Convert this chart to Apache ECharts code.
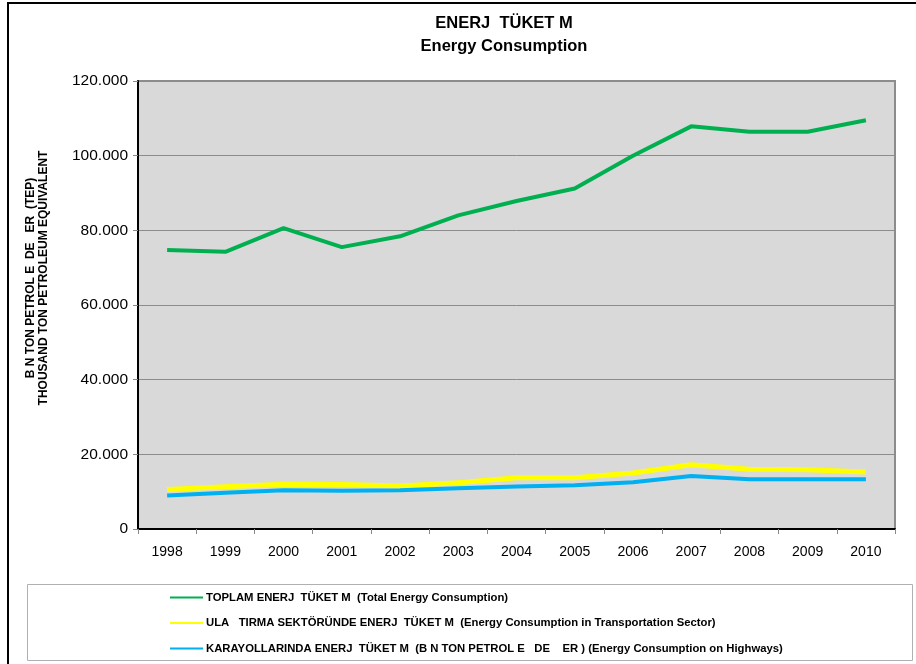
<!DOCTYPE html>
<html>
<head>
<meta charset="utf-8">
<script src="https://cdn.jsdelivr.net/npm/echarts@6/dist/echarts.min.js"></script>
<style>
  html, body { margin: 0; padding: 0; background: #fff; }
  #chart { width: 916px; height: 664px; }
</style>
</head>
<body>
<div id="chart"></div>
<script>
// data
var years = ['1998', '1999', '2000', '2001', '2002', '2003', '2004', '2005', '2006', '2007', '2008', '2009', '2010'];
var toplam = [74700, 74250, 80600, 75500, 78400, 84000, 87850, 91200, 100000, 107850, 106400, 106400, 109500];
var ulastirma = [10600, 11300, 12000, 11900, 11500, 12400, 13700, 13700, 15000, 17200, 16000, 15900, 15300];
var karayollari = [9000, 9700, 10400, 10250, 10350, 10900, 11400, 11700, 12500, 14200, 13300, 13300, 13300];
var yTicks = [0, 20000, 40000, 60000, 80000, 100000, 120000];

var seriesNames = [
  'TOPLAM ENERJ  TÜKET M  (Total Energy Consumption)',
  'ULA   TIRMA SEKTÖRÜNDE ENERJ  TÜKET M  (Energy Consumption in Transportation Sector)',
  'KARAYOLLARINDA ENERJ  TÜKET M  (B N TON PETROL E   DE    ER ) (Energy Consumption on Highways)'
];
var colors = ['#00b050', '#ffff00', '#00b0f0'];
var yTitle = 'B N TON PETROL E  DE   ER  (TEP)\nTHOUSAND TON PETROLEUM EQUIVALENT';

var font = 'Arial, "Liberation Sans", sans-serif';

function fmt(v) {
  if (v === 0) return '0';
  return (v / 1000).toFixed(3);
}

var myChart = echarts.init(document.getElementById('chart'));

var option = {
  animation: false,
  textStyle: { fontFamily: font },
  title: {
    text: 'ENERJ  TÜKET M\nEnergy Consumption',
    left: 499,
    textAlign: 'center',
    top: 7,
    textStyle: { fontSize: 16.5, fontWeight: 'bold', color: '#000', lineHeight: 23, fontFamily: font }
  },
  grid: {
    left: 138,
    right: 21,
    top: 81,
    bottom: 135,
    show: true,
    backgroundColor: '#d9d9d9',
    borderColor: '#8c8c8c',
    borderWidth: 2
  },
  legend: {
    orient: 'vertical',
    left: 165,
    top: 587,
    itemGap: 14.5,
    itemWidth: 33,
    itemHeight: 2,
    icon: 'rect',
    data: seriesNames,
    textStyle: { fontSize: 11.3, fontWeight: 'bold', color: '#000', fontFamily: font, padding: [0, 0, 0, -2] }
  },
  xAxis: {
    type: 'category',
    data: years,
    boundaryGap: true,
    axisLine: { lineStyle: { color: '#000', width: 2 } },
    axisTick: { show: true, length: 5, lineStyle: { color: '#888' } },
    axisLabel: { fontSize: 14, color: '#000', margin: 16, fontFamily: font }
  },
  yAxis: {
    type: 'value',
    min: yTicks[0],
    max: yTicks[yTicks.length - 1],
    interval: 20000,
    axisLine: { show: true, lineStyle: { color: '#000', width: 2 } },
    axisTick: { show: true, length: 5, lineStyle: { color: '#888' } },
    axisLabel: { fontSize: 15.5, color: '#000', margin: 10, formatter: fmt, fontFamily: font },
    splitLine: { show: true, lineStyle: { color: '#8c8c8c', width: 1 } }
  },
  graphic: [
    {
      type: 'rect',
      shape: { x: 8, y: 3, width: 1000, height: 1000 },
      style: { fill: 'none', stroke: '#000', lineWidth: 2 },
      silent: true,
      z: 0
    },
    {
      type: 'rect',
      shape: { x: 27.5, y: 584.5, width: 885, height: 76 },
      style: { fill: '#fff', stroke: '#b0b0b0', lineWidth: 1 },
      silent: true,
      z: 0
    },
    {
      type: 'text',
      x: 37,
      y: 278,
      rotation: Math.PI / 2,
      style: {
        text: yTitle,
        align: 'center',
        verticalAlign: 'middle',
        fontSize: 12,
        fontWeight: 'bold',
        lineHeight: 13,
        fontFamily: font,
        fill: '#000'
      }
    }
  ],
  series: [
    {
      name: seriesNames[0],
      type: 'line',
      data: toplam,
      symbol: 'none',
      color: colors[0],
      lineStyle: { width: 4, color: colors[0] }
    },
    {
      name: seriesNames[1],
      type: 'line',
      data: ulastirma,
      symbol: 'none',
      color: colors[1],
      lineStyle: { width: 5, color: colors[1] }
    },
    {
      name: seriesNames[2],
      type: 'line',
      data: karayollari,
      symbol: 'none',
      color: colors[2],
      lineStyle: { width: 4, color: colors[2] }
    }
  ]
};

myChart.setOption(option);
</script>
</body>
</html>
